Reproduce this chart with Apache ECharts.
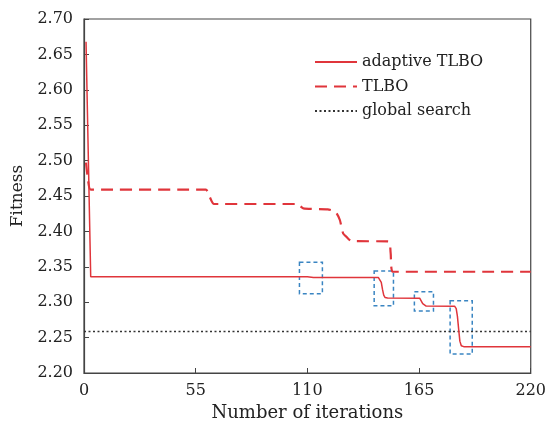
<!DOCTYPE html>
<html><head><meta charset="utf-8">
<script src="https://cdn.jsdelivr.net/npm/echarts@6/dist/echarts.min.js"></script>
<style>html,body{margin:0;padding:0;background:#fff}#c{width:549px;height:428px}</style>
</head><body><div id="c"></div>
<script>
const xTicks = [0, 55, 110, 165, 220];
const adaptiveTLBO = [[1,2.668],[3.3,2.336],[110,2.3358],[113,2.3348],[145,2.3348],[145.8,2.3335],[146.4,2.328],[147,2.318],[147.6,2.310],[148.3,2.3065],[149.5,2.3058],[165.3,2.3056],[166.1,2.303],[166.8,2.298],[167.5,2.2952],[168.5,2.2946],[182.5,2.2944],[183.3,2.291],[183.9,2.28],[184.5,2.262],[185.1,2.245],[185.8,2.2385],[187,2.2372],[220,2.2372]];
const tlbo = [[1,2.497],[2,2.472],[3.3,2.459],[60,2.459],[62,2.448],[64,2.4387],[105,2.4387],[108,2.4325],[120,2.4312],[123,2.429],[124.4,2.4256],[126,2.4161],[127.6,2.3973],[129.2,2.3925],[131.7,2.3864],[150,2.3858],[151,2.37],[152,2.343],[220,2.343]];
const globalSearch = [[0,2.2585],[220,2.2585]];
const boxes = [
  [106.1, 2.3564, 117.4, 2.312],
  [142.9, 2.344, 152.4, 2.295],
  [162.7, 2.3148, 172.1, 2.2876],
  [180.3, 2.302, 191.2, 2.2268]
];
const seriesNames = ['adaptive TLBO', 'TLBO', 'global search'];

const font = 'DejaVu Serif';
const txt = '#222';
const chart = echarts.init(document.getElementById('c'));
chart.setOption({
  backgroundColor: '#fff',
  animation: false,
  grid: { left: 84, right: 15, top: 19, bottom: 55, show: true, borderColor: '#444', borderWidth: 1.2, backgroundColor: 'transparent' },
  legend: {
    orient: 'vertical', left: 309, top: 49, itemWidth: 42, itemHeight: 14, itemGap: 8.5,
    itemStyle: { opacity: 0 },
    textStyle: { fontFamily: font, fontSize: 16, color: txt },
    data: seriesNames
  },
  xAxis: {
    type: 'value', min: 0, max: 220, interval: 55,
    name: 'Number of iterations', nameLocation: 'middle', nameGap: 29,
    nameTextStyle: { fontFamily: font, fontSize: 18, color: txt },
    axisLine: { lineStyle: { color: '#444', width: 1.2 } },
    axisTick: { inside: true, length: 5, lineStyle: { color: '#444' } },
    axisLabel: { fontFamily: font, fontSize: 16, color: txt, margin: 10 },
    splitLine: { show: false }
  },
  yAxis: {
    type: 'value', min: 2.2, max: 2.7, interval: 0.05,
    name: 'Fitness', nameLocation: 'middle', nameGap: 55, nameRotate: 90,
    nameTextStyle: { fontFamily: font, fontSize: 17, color: txt },
    axisLine: { show: true, lineStyle: { color: '#444', width: 1.2 } },
    axisTick: { show: true, inside: true, length: 5, lineStyle: { color: '#444' } },
    axisLabel: { fontFamily: font, fontSize: 16, color: txt, margin: 11, formatter: v => v.toFixed(2) },
    splitLine: { show: false }
  },
  series: [
    {
      name: seriesNames[0], type: 'line', data: adaptiveTLBO, symbol: 'none',
      lineStyle: { color: '#e0353b', width: 1.5 }, itemStyle: { color: '#e0353b' },
      markArea: {
        silent: true,
        itemStyle: { color: 'rgba(0,0,0,0)', borderColor: '#3a85c2', borderWidth: 1.5, borderType: [4, 3] },
        data: boxes.map(b => [{ xAxis: b[0], yAxis: b[1] }, { xAxis: b[2], yAxis: b[3] }])
      },
      z: 3
    },
    {
      name: seriesNames[1], type: 'line', data: tlbo, symbol: 'none', smooth: 0.2,
      lineStyle: { color: '#e0353b', width: 2.2, type: [12, 7] }, itemStyle: { color: '#e0353b' }, z: 3
    },
    {
      name: seriesNames[2], type: 'line', data: globalSearch, symbol: 'none',
      lineStyle: { color: '#333', width: 1.5, type: [2, 2.5] }, itemStyle: { color: '#333' }, z: 2
    }
  ]
});
</script></body></html>
